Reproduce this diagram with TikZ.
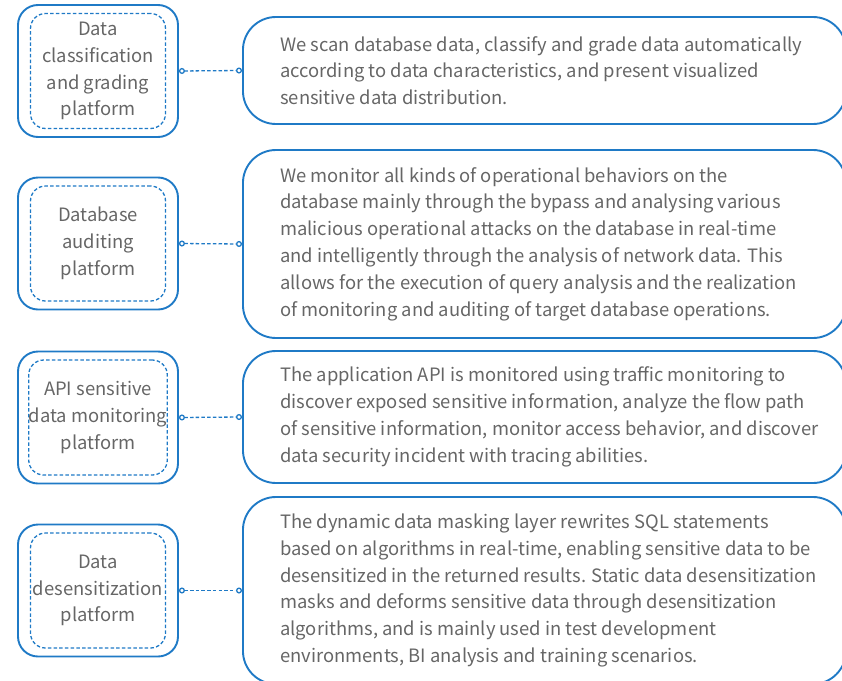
\documentclass[tikz,border=0pt]{standalone}
\usepackage{fontspec}
\setmainfont{Noto Sans CJK SC}
\usepackage{tikz}
\usetikzlibrary{arrows.meta,positioning,shapes}
\definecolor{lineblue}{HTML}{1F7AC6}
\definecolor{textgrey}{HTML}{666666}
\tikzset{
  platform/.style={draw=lineblue, line width=1.9pt, rounded corners=20pt, minimum width=160pt, minimum height=132pt},
  platformin/.style={draw=lineblue, line width=1.3pt, dash pattern=on 3.5pt off 2.2pt, rounded corners=15pt, minimum width=135pt, minimum height=115pt, align=center, text=textgrey, inner sep=0pt},
  detail/.style={draw=lineblue, line width=1.9pt, rounded corners=33pt, minimum width=603pt, anchor=west},
  detailtext/.style={align=left, text=textgrey, inner sep=0pt},
  link/.style={draw=lineblue, line width=1.3pt, dash pattern=on 3.5pt off 2.2pt, {Circle[fill=white,length=6pt,width=6pt]}-{Circle[fill=white,length=6pt,width=6pt]}}
}

\begin{document}
\begin{tikzpicture}[x = 1pt, y = -1pt, font=\fontsize{18.4}{26.8}\selectfont]
\useasboundingbox (0,0) rectangle (842,680);

\node[platform] (p1) at (98,71) {};
\node[platformin] (p1in) at (p1) {Data\\classification\\and grading\\platform};
\node[detail, minimum height=107pt] (d1) at (242,70.5) {};
\node[detailtext, right=38pt of d1.west] (d1txt) {We scan database data, classify and grade data automatically\\according to data characteristics, and present visualized\\sensitive data distribution.};
\draw[link] (p1.east) -- (d1.west);

\node[platform] (p2) at (98,243.5) {};
\node[platformin] (p2in) at (p2) {Database\\auditing\\platform};
\node[detail, minimum height=188pt] (d2) at (242,244) {};
\node[detailtext, right=38pt of d2.west] (d2txt) {We monitor all kinds of operational behaviors on the\\database mainly through the bypass and analysing various\\malicious operational attacks on the database in real-time\\and intelligently through the analysis of network data. This\\allows for the execution of query analysis and the realization\\of monitoring and auditing of target database operations.};
\draw[link] (p2.east) -- (d2.west);

\node[platform] (p3) at (98,417.5) {};
\node[platformin] (p3in) at (p3) {API sensitive\\data monitoring\\platform};
\node[detail, minimum height=132pt] (d3) at (242,417) {};
\node[detailtext, right=38pt of d3.west] (d3txt) {The application API is monitored using traffic monitoring to\\discover exposed sensitive information, analyze the flow path\\of sensitive information, monitor access behavior, and discover\\data security incident with tracing abilities.};
\draw[link] (p3.east) -- (d3.west);

\node[platform] (p4) at (98,590.5) {};
\node[platformin] (p4in) at (p4) {Data\\desensitization\\platform};
\node[detail, minimum height=187pt] (d4) at (242,590.5) {};
\node[detailtext, right=38pt of d4.west] (d4txt) {The dynamic data masking layer rewrites SQL statements\\based on algorithms in real-time, enabling sensitive data to be\\desensitized in the returned results. Static data desensitization\\masks and deforms sensitive data through desensitization\\algorithms, and is mainly used in test development\\environments, BI analysis and training scenarios.};
\draw[link] (p4.east) -- (d4.west);

\end{tikzpicture}
\end{document}
